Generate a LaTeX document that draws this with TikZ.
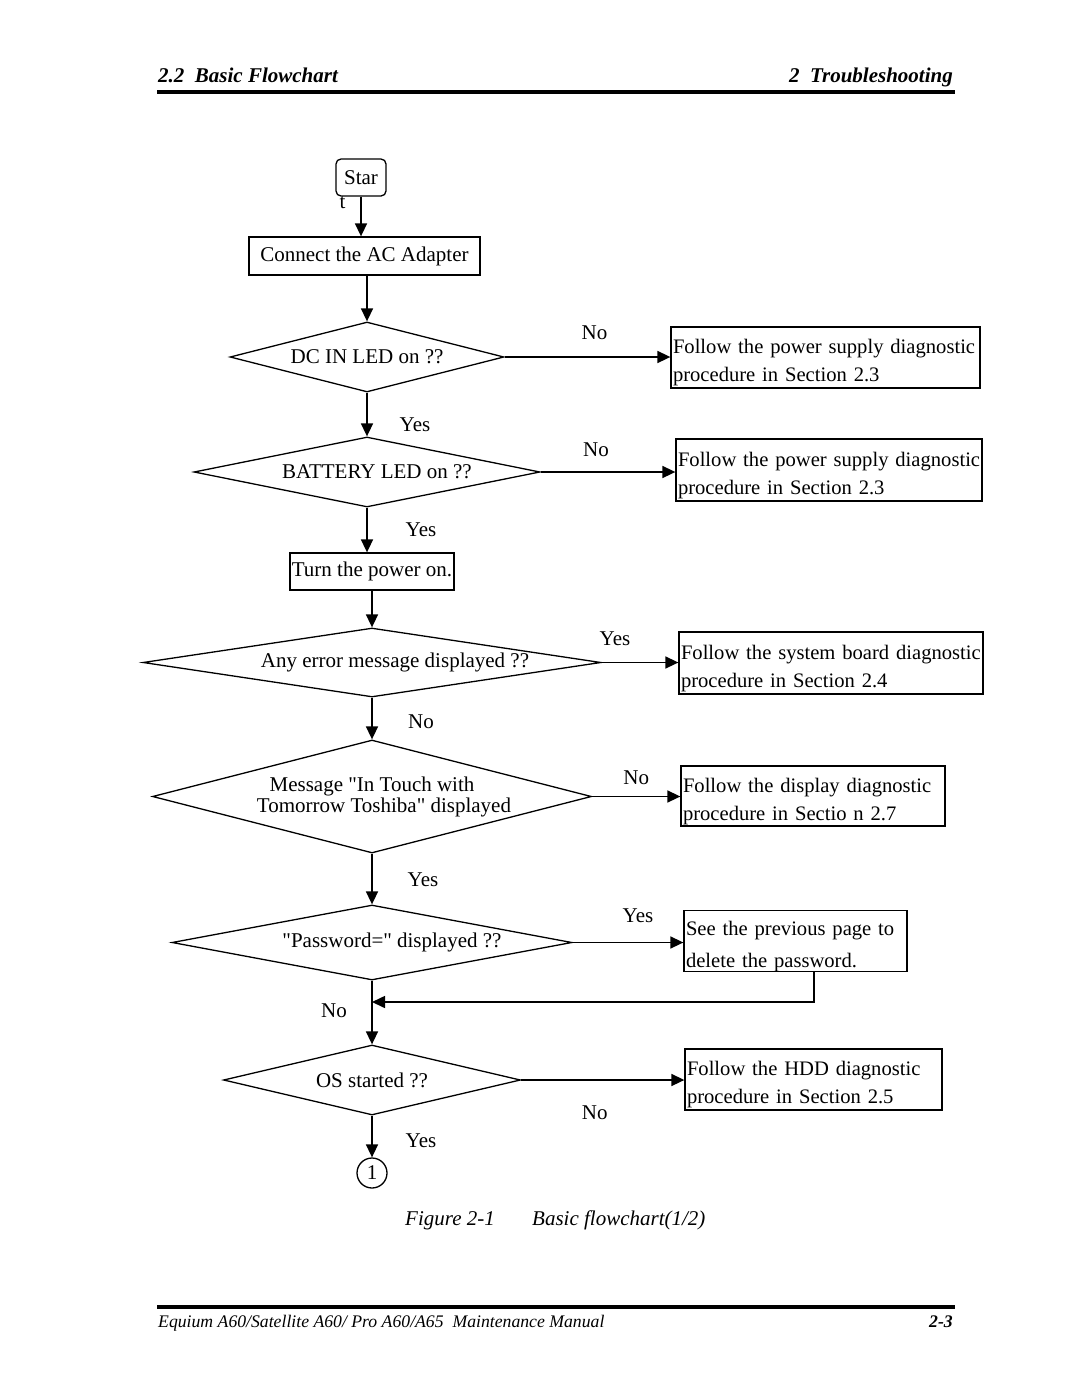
\documentclass[tikz,border=0pt]{standalone}
\usepackage{fontspec}
\setmainfont{Liberation Serif}
\usetikzlibrary{positioning,shapes.geometric,arrows.meta}
\tikzset{
  proc/.style={draw,line width=1.3pt,align=left,inner xsep=2pt,inner ysep=0pt},
  note/.style={proc,font=\fontsize{20.6}{28}\selectfont,execute at begin node={\rule{0pt}{25pt}}},
  decision/.style={diamond,draw,line width=1.3pt,inner sep=0pt,align=center,shape aspect=#1},
  flow/.style={line width=1.6pt,-{Triangle[length=13pt,width=12pt]}},
  lbl/.style={inner sep=0pt}
}

\begin{document}
\begin{tikzpicture}[x=1pt,y=-1pt,font=\fontsize{21}{28}\selectfont]
\useasboundingbox (0,0) rectangle (1080,1397);
% Page header
\node[lbl,anchor=base west] (htitle) at (158,82) {\bfseries\itshape 2.2\ \ Basic Flowchart};
\node[lbl,anchor=base east] (hchap) at (953,82) {\bfseries\itshape 2\ \ Troubleshooting};
\fill (157,90) rectangle (955,94);
% Main column of steps and questions
\node[draw,rounded corners=5pt,line width=1.3pt,minimum width=50pt,minimum height=37pt,inner sep=0pt,
  label={[anchor=north west,inner sep=0pt,xshift=4pt]south west:t}] (start) at (361,177.5) {Star};
\node[proc,align=center,minimum width=231pt,minimum height=38pt] (conn) at (364.5,256) {Connect the AC Adapter};
\node[decision=3.9,minimum width=274pt,minimum height=70pt] (dc) at (367,357) {DC IN LED on ??};
\node[decision=4.9,minimum width=346pt,minimum height=70pt] (bat) at (367,472) {\hspace*{20pt}BATTERY LED on ??};
\node[proc,align=center,minimum width=164pt,minimum height=37pt] (pwr) at (372,571.5) {Turn the power on.};
\node[decision=6.6,minimum width=458pt,minimum height=69pt] (err) at (372,662.5) {\hspace*{46pt}Any error message displayed ??};
\node[decision=3.9,minimum width=439pt,minimum height=113pt,font=\fontsize{21}{21}\selectfont] (msg) at (372,796.5)
  {Message \textquotedbl In Touch with\\\hspace*{24pt}Tomorrow Toshiba\textquotedbl\ displayed};
\node[decision=5.3,minimum width=400pt,minimum height=75pt] (pwd) at (372,942.5) {\hspace*{40pt}\textquotedbl Password=\textquotedbl\ displayed ??};
\node[decision=4.2,minimum width=297pt,minimum height=70pt] (os) at (372,1080) {OS started ??};
\node[circle,draw,line width=1.3pt,minimum size=30pt,inner sep=0pt] (one) at (372,1173) {1};
% Right column: where to go next
\node[note,text width=305pt,minimum height=61pt] (ps1) at (825.5,357.5) {\mbox{Follow the power supply diagnostic}\\\mbox{procedure in Section 2.3}};
\node[note,text width=302pt,minimum height=62pt] (ps2) at (829,470) {\mbox{Follow the power supply diagnostic}\\\mbox{procedure in Section 2.3}};
\node[note,text width=300pt,minimum height=62pt] (sb) at (831,663) {\mbox{Follow the system board diagnostic}\\\mbox{procedure in Section 2.4}};
\node[note,text width=260pt,minimum height=60pt] (dsp) at (813,796) {\mbox{Follow the display diagnostic}\\\mbox{procedure in Sectio n 2.7}};
\node[note,text width=219pt,minimum height=60pt,font=\fontsize{20.6}{32}\selectfont] (prev) at (795.5,941) {\mbox{See the previous page to}\\\mbox{delete the password.}};
\node[note,text width=253pt,minimum height=61pt] (hdd) at (813.5,1079.5) {\mbox{Follow the HDD diagnostic}\\\mbox{procedure in Section 2.5}};
% Connectors
\draw[flow] (start.south) -- (start.south |- conn.north);
\draw[flow] (dc.north |- conn.south) -- (dc.north);
\draw[flow] (dc.east) -- node[lbl,xshift=7pt,yshift=24pt] {No} (dc.east -| ps1.west);
\draw[flow] (dc.south) -- node[lbl,xshift=48pt,yshift=-10pt] {Yes} (bat.north);
\draw[flow] (bat.east) -- node[lbl,xshift=-12pt,yshift=22pt] {No} (bat.east -| ps2.west);
\draw[flow] (bat.south) -- node[lbl,xshift=54pt] {Yes} (bat.south |- pwr.north);
\draw[flow] (pwr.south) -- (err.north);
\draw[flow] (err.east) -- node[lbl,xshift=-25pt,yshift=24pt] {Yes} (err.east -| sb.west);
\draw[flow] (err.south) -- node[lbl,xshift=49pt,yshift=-3pt] {No} (msg.north);
\draw[flow] (msg.east) -- node[lbl,yshift=19pt] {No} (msg.east -| dsp.west);
\draw[flow] (msg.south) -- node[lbl,xshift=51pt,yshift=-1pt] {Yes} (pwd.north);
\draw[flow] (pwd.east) -- node[lbl,xshift=10pt,yshift=27pt] {Yes} (pwd.east -| prev.west);
\draw[flow] (pwd.south) -- node[lbl,xshift=-38pt,yshift=2pt] {No} (os.north);
\coordinate (back) at (814,1002);
\draw[flow] (prev.south -| back) |- (pwd.south |- back);
\draw[flow] (os.east) -- node[lbl,xshift=-8pt,yshift=-33pt] {No} (os.east -| hdd.west);
\draw[flow] (os.south) -- node[lbl,xshift=49pt,yshift=-4pt] {Yes} (one.north);
% Caption and page footer
\node[lbl,anchor=base west] (figno) at (405,1225) {\itshape Figure 2-1};
\node[lbl,anchor=base west] (figcap) at (532,1225) {\itshape Basic flowchart(1/2)};
\fill (157,1305) rectangle (955,1309);
\node[lbl,anchor=base west] (fman) at (158,1327) {\fontsize{17.7}{20}\selectfont\itshape Equium A60/Satellite A60/ Pro A60/A65\ \ Maintenance Manual};
\node[lbl,anchor=base east] (fpage) at (953,1327) {\fontsize{17.7}{20}\selectfont\bfseries\itshape 2-3};
\end{tikzpicture}
\end{document}
